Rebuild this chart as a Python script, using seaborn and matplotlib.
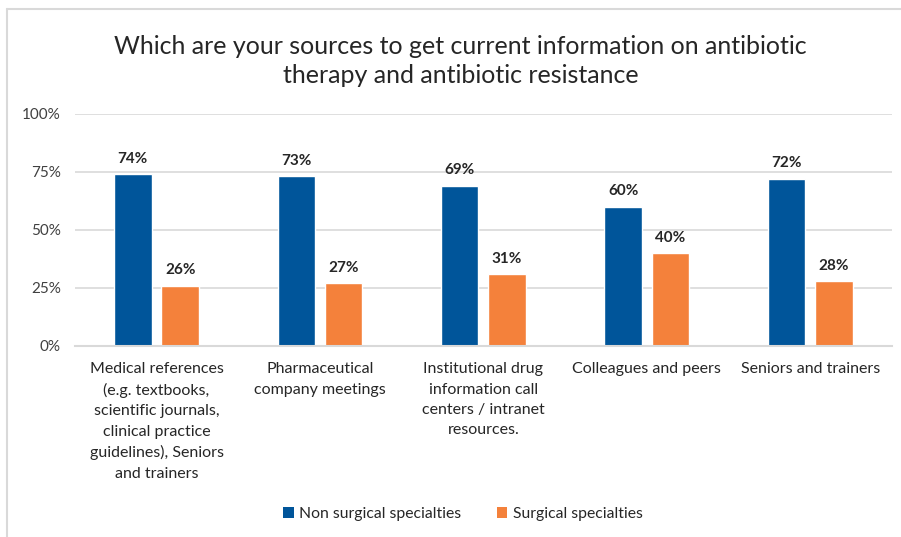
import matplotlib
matplotlib.use("Agg")
import matplotlib.pyplot as plt
import seaborn as sns
import pandas as pd
from matplotlib.lines import Line2D
from matplotlib.patches import Patch

categories = [
    "Medical references\n(e.g. textbooks,\nscientific journals,\nclinical practice\nguidelines), Seniors\nand trainers",
    "Pharmaceutical\ncompany meetings",
    "Institutional drug\ninformation call\ncenters / intranet\nresources.",
    "Colleagues and peers",
    "Seniors and trainers",
]
series_names = ["Non surgical specialties", "Surgical specialties"]
non_surgical = [74, 73, 69, 60, 72]
surgical = [26, 27, 31, 40, 28]
y_ticks = [0, 25, 50, 75, 100]
y_tick_labels = ["0%", "25%", "50%", "75%", "100%"]
colors = ["#00559A", "#F4813B"]

sns.set_theme(style="white")
plt.rcParams["font.family"] = ["Lato", "DejaVu Sans"]

df = pd.DataFrame({
    "category": categories * 2,
    "series": [series_names[0]] * len(categories) + [series_names[1]] * len(categories),
    "value": non_surgical + surgical,
})

fig = plt.figure(figsize=(9.01, 5.37), dpi=100)
ax = fig.add_axes([0.083, 0.356, 0.907, 0.432])

sns.barplot(data=df, x="category", y="value", hue="series", order=categories,
            hue_order=series_names, palette=colors, width=0.58, gap=0.21,
            saturation=1, ax=ax, legend=False)

for container in ax.containers:
    ax.bar_label(container, labels=[f"{v:.0f}%" for v in container.datavalues],
                 padding=6, fontsize=11, fontweight="bold", color="#262626")

ax.set_ylim(0, 100)
ax.set_xlim(-0.5, len(categories) - 0.5)
ax.set_yticks(y_ticks)
ax.set_yticklabels(y_tick_labels, fontsize=11, color="#404040")
ax.yaxis.grid(True, color="#D9D9D9", linewidth=1.2)
ax.set_axisbelow(True)
ax.set_xticks(range(len(categories)))
ax.set_xticklabels(categories, fontsize=11.5, color="#262626", linespacing=1.56)
ax.tick_params(axis="x", length=0, pad=12)
ax.tick_params(axis="y", length=0, pad=10)
for s in ["top", "right", "left"]:
    ax.spines[s].set_visible(False)
ax.spines["bottom"].set_color("#D9D9D9")
ax.spines["bottom"].set_linewidth(1.5)
ax.set_xlabel("")
ax.set_ylabel("")

fig.text(0.511, 0.887, "Which are your sources to get current information on antibiotic\ntherapy and antibiotic resistance",
         ha="center", va="center", fontsize=18, color="#262626", linespacing=1.3)

handles = [Patch(facecolor=c, edgecolor="none") for c in colors]
fig.legend(handles, series_names, loc="center", bbox_to_anchor=(0.514, 0.043), ncol=2,
           frameon=False, fontsize=11.3, handlelength=0.65, handleheight=0.65,
           handletextpad=0.35, columnspacing=2.3, labelcolor="#262626")

# outer chart border
fig.add_artist(Line2D([7/901, 7/901], [0, 1 - 9/537], transform=fig.transFigure,
                      color="#D9D9D9", linewidth=1.5))
fig.add_artist(Line2D([7/901, 1], [1 - 9/537, 1 - 9/537], transform=fig.transFigure,
                      color="#D9D9D9", linewidth=1.5))

fig.savefig("out.png", dpi=100, facecolor="white")
